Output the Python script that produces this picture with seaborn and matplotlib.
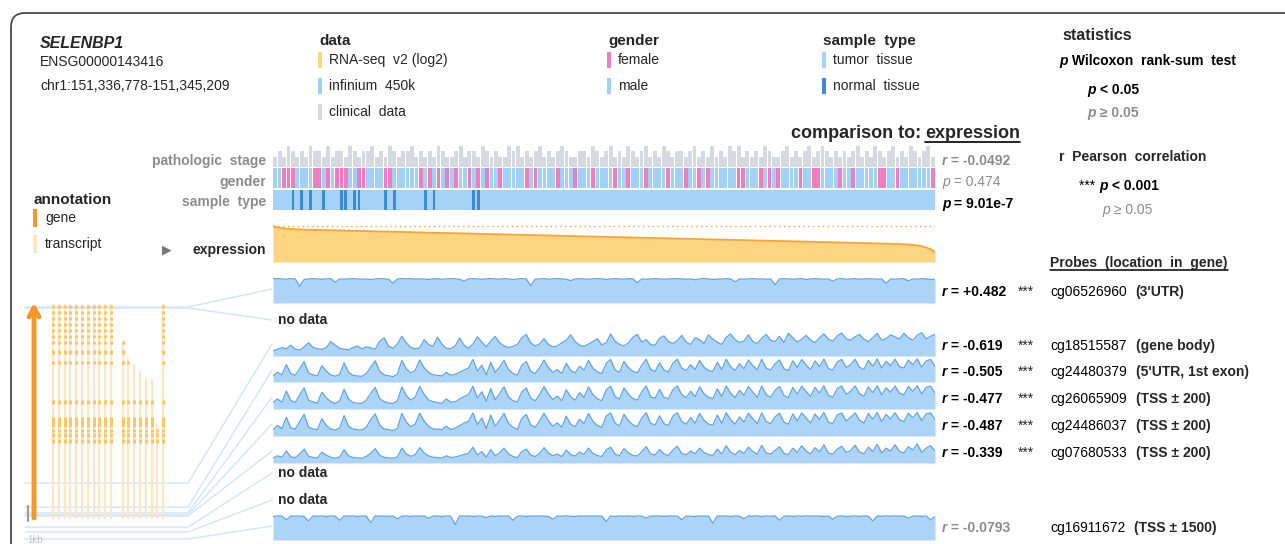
import numpy as np
import matplotlib
matplotlib.use('Agg')
import matplotlib.pyplot as plt
from matplotlib.patches import FancyBboxPatch, Rectangle
import seaborn as sns

sns.set_theme(style='white')
plt.rcParams['font.family'] = ['Liberation Sans', 'DejaVu Sans']

# ---------------------------------------------------------------- data
# samples are ordered by expression (high -> low)
EXPR = [12.68, 12.52, 12.41, 12.33, 12.28, 12.24, 12.21, 12.19, 12.17, 12.16,
        12.14, 12.13, 12.11, 12.10, 12.08, 12.06, 12.05, 12.03, 12.02, 12.00,
        11.99, 11.97, 11.95, 11.94, 11.92, 11.91, 11.89, 11.88, 11.86, 11.85,
        11.83, 11.82, 11.80, 11.78, 11.77, 11.75, 11.74, 11.72, 11.71, 11.69,
        11.68, 11.66, 11.65, 11.63, 11.62, 11.60, 11.58, 11.57, 11.55, 11.54,
        11.52, 11.51, 11.49, 11.48, 11.46, 11.45, 11.43, 11.41, 11.40, 11.38,
        11.37, 11.35, 11.34, 11.32, 11.31, 11.29, 11.28, 11.26, 11.24, 11.23,
        11.21, 11.20, 11.18, 11.17, 11.15, 11.14, 11.12, 11.11, 11.09, 11.07,
        11.06, 11.04, 11.03, 11.01, 11.00, 10.98, 10.97, 10.95, 10.94, 10.92,
        10.90, 10.89, 10.87, 10.86, 10.84, 10.83, 10.81, 10.80, 10.78, 10.77,
        10.75, 10.73, 10.72, 10.70, 10.69, 10.67, 10.66, 10.64, 10.63, 10.61,
        10.60, 10.58, 10.56, 10.55, 10.53, 10.52, 10.50, 10.49, 10.47, 10.46,
        10.44, 10.43, 10.41, 10.39, 10.38, 10.36, 10.35, 10.33, 10.32, 10.30,
        10.29, 10.27, 10.26, 10.24, 10.22, 10.21, 10.19, 10.18, 10.16, 10.14,
        10.12, 10.10, 10.07, 10.03, 9.98, 9.90, 9.78, 9.60, 9.35, 8.95]

STAGE = [int(c) for c in (
    "2324323243" "3242332432" "3342324323" "3423232432" "2342332432"
    "3224342323" "4232343223" "3243234232" "4323423243" "2332342324"
    "2324342323" "2432234232" "3423432323" "2342324323" "4232432342")]

GENDER = list(
    "MMFFFMMMMF" "FMFMFFFMMF" "FMMMMFFMMM" "MMMFMFMFMF" "MFMMFMFMFM"
    "MFMMMMMFMF" "MMMMFMMMFM" "MMFMMMMFMM" "FMMMFMMMMF" "MMMFMMFMFM"
    "MMMMMFFMMM" "FMFMFMMMMF" "MMFFMMMMFM" "MFMMMMMFFM" "MFMMMMMMMF")

SAMPLE_TYPE = list(
    "TTTTNTNTNT" "TNTTTNNTNN" "TTTTTNTNTT" "TTTTNTNTTT" "TTTTTNNTTT"
    "TTTTTTTTTT" "TTTTTTTTTT" "TTTTTTTTTT" "TTTTTTTTTT" "TTTTTTTTTT"
    "TTTTTTTTTT" "TTTTTTTTTT" "TTTTTTTTTT" "TTTTTTTTTT" "TTTTTTTTTT")

# methylation beta values x100 per probe
CG06526960 = [86, 87, 86, 85, 87, 86, 60, 84, 86, 87,
              86, 85, 86, 87, 74, 86, 85, 86, 87, 86,
              85, 86, 84, 86, 87, 86, 85, 70, 86, 87,
              86, 87, 85, 86, 86, 84, 86, 87, 85, 86,
              87, 86, 85, 78, 86, 87, 86, 85, 86, 87,
              86, 85, 87, 86, 84, 86, 87, 86, 62, 85,
              86, 87, 85, 86, 87, 86, 85, 80, 86, 87,
              86, 85, 86, 87, 86, 84, 86, 87, 86, 85,
              87, 86, 72, 86, 85, 86, 87, 86, 85, 86,
              86, 87, 86, 85, 86, 83, 86, 87, 86, 84,
              85, 86, 87, 86, 76, 86, 85, 86, 87, 86,
              86, 85, 86, 65, 86, 87, 86, 85, 86, 87,
              84, 86, 87, 86, 85, 86, 78, 86, 87, 85,
              86, 87, 85, 86, 87, 86, 85, 86, 70, 86,
              85, 86, 87, 79, 86, 85, 87, 86, 84, 85]

CG18515587 = [22, 28, 35, 30, 45, 28, 25, 38, 55, 36,
              30, 28, 35, 60, 45, 32, 28, 26, 35, 42,
              30, 38, 34, 28, 62, 75, 42, 32, 50, 82,
              55, 36, 30, 34, 68, 48, 40, 78, 50, 32,
              30, 42, 75, 45, 32, 50, 80, 58, 38, 62,
              82, 55, 42, 35, 40, 48, 76, 90, 55, 42,
              50, 72, 48, 38, 42, 55, 66, 88, 60, 45,
              40, 50, 60, 72, 46, 55, 92, 62, 48, 42,
              55, 78, 90, 58, 68, 48, 45, 74, 84, 60,
              52, 64, 86, 58, 48, 76, 68, 52, 88, 70,
              58, 48, 78, 92, 68, 56, 62, 88, 60, 52,
              74, 90, 66, 60, 82, 56, 95, 76, 58, 70,
              86, 66, 56, 76, 92, 70, 62, 84, 96, 72,
              66, 80, 90, 70, 60, 76, 94, 66, 72, 88,
              80, 70, 95, 76, 66, 86, 97, 72, 82, 90]

CG24480379 = [25, 40, 30, 72, 35, 28, 55, 85, 38, 30,
              26, 68, 45, 30, 24, 32, 80, 40, 28, 25,
              24, 35, 62, 88, 45, 30, 26, 22, 32, 90,
              55, 38, 48, 92, 60, 40, 30, 28, 25, 40,
              28, 32, 40, 50, 58, 94, 45, 70, 30, 82,
              40, 62, 90, 52, 36, 28, 70, 86, 45, 35,
              58, 92, 60, 40, 52, 35, 78, 48, 38, 66,
              50, 90, 58, 42, 35, 78, 94, 50, 40, 86,
              60, 45, 38, 70, 95, 52, 44, 80, 50, 42,
              78, 95, 58, 48, 72, 52, 90, 62, 48, 44,
              82, 52, 95, 64, 48, 76, 55, 92, 68, 50,
              95, 58, 50, 76, 92, 55, 48, 88, 60, 94,
              70, 52, 88, 64, 96, 56, 50, 84, 94, 60,
              72, 95, 62, 52, 90, 66, 96, 58, 86, 68,
              95, 64, 58, 92, 72, 96, 62, 88, 94, 66]

CG26065909 = [27, 42, 28, 75, 36, 27, 58, 88, 36, 30,
              25, 70, 47, 31, 23, 34, 82, 42, 27, 24,
              23, 37, 65, 90, 43, 31, 25, 23, 34, 92,
              56, 37, 50, 94, 62, 38, 31, 27, 24, 42,
              29, 30, 42, 52, 60, 95, 46, 72, 32, 85,
              38, 64, 92, 50, 35, 29, 72, 88, 46, 34,
              60, 94, 62, 39, 54, 34, 80, 50, 37, 68,
              49, 92, 60, 43, 34, 80, 95, 52, 41, 88,
              62, 44, 37, 72, 96, 50, 45, 82, 49, 43,
              80, 96, 60, 47, 74, 51, 92, 64, 49, 43,
              84, 51, 96, 66, 47, 78, 57, 94, 70, 49,
              96, 60, 49, 78, 94, 57, 47, 90, 62, 95,
              72, 53, 90, 66, 97, 57, 49, 86, 95, 61,
              74, 96, 64, 53, 92, 68, 97, 59, 88, 69,
              96, 66, 59, 94, 74, 97, 63, 90, 95, 67]

CG24486037 = [26, 44, 31, 78, 34, 29, 60, 90, 37, 29,
              27, 72, 44, 29, 25, 33, 85, 41, 29, 26,
              25, 36, 68, 92, 46, 29, 27, 22, 33, 94,
              58, 39, 49, 95, 63, 41, 29, 29, 26, 41,
              27, 33, 43, 54, 61, 96, 47, 75, 31, 87,
              41, 66, 94, 53, 37, 27, 74, 90, 47, 36,
              62, 95, 63, 41, 55, 36, 83, 49, 39, 70,
              52, 94, 61, 44, 36, 83, 96, 53, 42, 90,
              64, 46, 39, 75, 97, 53, 46, 84, 51, 44,
              83, 97, 61, 49, 77, 53, 94, 66, 50, 45,
              87, 53, 97, 68, 49, 80, 58, 95, 72, 51,
              97, 61, 51, 80, 95, 58, 49, 92, 63, 96,
              75, 54, 92, 68, 98, 58, 51, 88, 96, 62,
              77, 97, 66, 54, 94, 70, 98, 60, 90, 71,
              97, 68, 60, 95, 76, 98, 64, 92, 96, 69]

CG07680533 = [20, 30, 24, 50, 26, 22, 38, 58, 28, 23,
              21, 45, 32, 24, 20, 25, 55, 30, 23, 21,
              20, 27, 42, 60, 32, 24, 21, 20, 25, 62,
              38, 28, 34, 64, 42, 30, 24, 23, 21, 30,
              23, 25, 30, 36, 40, 66, 33, 48, 24, 56,
              30, 42, 62, 38, 27, 22, 48, 58, 33, 27,
              40, 64, 42, 30, 37, 27, 54, 35, 29, 46,
              36, 62, 40, 31, 27, 54, 66, 37, 30, 60,
              42, 32, 29, 48, 68, 38, 33, 56, 38, 31,
              54, 70, 40, 34, 50, 38, 62, 44, 35, 32,
              58, 38, 72, 45, 35, 52, 40, 66, 48, 37,
              74, 42, 37, 52, 68, 40, 35, 62, 44, 72,
              50, 38, 64, 46, 76, 42, 37, 58, 70, 44,
              52, 74, 46, 38, 66, 48, 78, 42, 62, 50,
              76, 48, 42, 68, 54, 80, 44, 62, 72, 50]

CG16911672 = [84, 86, 85, 72, 86, 85, 86, 84, 68, 86,
              85, 86, 84, 86, 85, 70, 86, 85, 86, 84,
              86, 85, 62, 86, 85, 86, 84, 86, 75, 85,
              86, 84, 86, 85, 86, 78, 85, 86, 84, 86,
              85, 55, 86, 85, 86, 84, 86, 85, 80, 86,
              84, 86, 85, 86, 70, 85, 86, 84, 86, 85,
              86, 85, 84, 74, 86, 85, 86, 85, 84, 86,
              85, 86, 85, 86, 85, 66, 86, 84, 86, 85,
              86, 84, 86, 85, 78, 86, 85, 86, 84, 86,
              85, 86, 72, 86, 85, 84, 86, 85, 86, 60,
              86, 85, 86, 84, 86, 85, 76, 86, 85, 86,
              84, 86, 85, 86, 70, 85, 86, 84, 86, 85,
              86, 85, 86, 85, 84, 86, 74, 85, 86, 84,
              85, 86, 84, 86, 85, 68, 86, 85, 86, 85,
              86, 85, 86, 78, 85, 86, 84, 86, 72, 84]

# probe table (row order as shown)
PROBE_ROWS = [
    ('cg06526960', "(3'UTR)",          '+0.482', True,  CG06526960),
    (None, None, None, None, None),
    ('cg18515587', '(gene body)',      '-0.619', True,  CG18515587),
    ('cg24480379', "(5'UTR, 1st exon)", '-0.505', True, CG24480379),
    ('cg26065909', '(TSS ± 200)',      '-0.477', True,  CG26065909),
    ('cg24486037', '(TSS ± 200)',      '-0.487', True,  CG24486037),
    ('cg07680533', '(TSS ± 200)',      '-0.339', True,  CG07680533),
    (None, None, None, None, None),
    (None, None, None, None, None),
    ('cg16911672', '(TSS ± 1500)',     '-0.0793', False, CG16911672),
]
# probe genomic position, kb from gene start
PROBE_KB = [8.34, 8.30, 1.38, 0.43, 0.20, 0.12, 0.08, -0.36, -0.55, -0.83]

# gene annotation (kb from gene start)
GENE_KB = (0.0, 8.43)
TX_COLUMN = [0, 1, 2, 3, 4, 5, 6, 7, 8, 9, 10, 12, 13, 14, 15, 16, 17, 18, 19]
TX_TOP_KB = [8.42, 8.42, 8.42, 8.42, 8.42, 8.42, 8.42, 8.42, 8.42, 8.42, 8.42,
             6.96, 6.25, 6.05, 5.77, 5.49, 5.45, 3.68, 8.42]
EXON_KB = [8.30, 8.06, 7.82, 7.58, 7.34, 7.10, 6.86, 6.50, 6.07, 4.50,
           3.60, 3.40, 3.20, 2.96]
EXON_LEN = [0.12, 0.12, 0.12, 0.12, 0.12, 0.12, 0.12, 0.15, 0.15, 0.15,
            0.40, 0.12, 0.15, 0.15]

# ---------------------------------------------------------------- style
ORANGE_FILL = '#fdd480'
ORANGE_LINE = '#f4a535'
BLUE_FILL = '#acd4f6'
BLUE_LINE = '#62a4e0'
PINK = '#f27cc0'
MALE = '#a1d1f6'
TUMOR = '#a4d3f7'
NORMAL = '#3d8bd6'
CLIN = '#d6d9df'
GENE = '#f5972b'
TRANSCRIPT = '#fde7c3'
EXON = '#f9c766'
LINK = '#d3e4f4'
GRAY = '#8c8c8c'

W, H = 1285, 544
N = len(EXPR)
idx = np.arange(N)
fig = plt.figure(figsize=(W / 100, H / 100), dpi=100)
R = fig.canvas.get_renderer()

bg = fig.add_axes([0, 0, 1, 1])
bg.set_xlim(0, W)
bg.set_ylim(H, 0)
bg.axis('off')


def box(x0, y0, x1, y1):
    return fig.add_axes([x0 / W, 1 - y1 / H, (x1 - x0) / W, (y1 - y0) / H])


def clean(ax, keep_face=False):
    ax.set_xticks([])
    ax.set_yticks([])
    ax.set(xlabel='', ylabel='')
    for s in ax.spines.values():
        s.set_visible(False)
    if not keep_face:
        ax.patch.set_visible(False)


def seq(x, y, parts, size=10, color='black'):
    for s, kw in parts:
        t = bg.text(x, y, s, fontsize=size, color=color, va='center', **kw)
        x = t.get_window_extent(renderer=R).x1
    return x


X0, X1 = 273, 935

# frame
bg.add_patch(FancyBboxPatch((11, 13), 1400, 700,
                            boxstyle='round,pad=0,rounding_size=14',
                            fc='none', ec='#4a4a4a', lw=1.3))

# ---------------------------------------------------------------- header
bg.text(40, 43, 'SELENBP1', fontsize=11.5, weight='bold', style='italic', va='center')
bg.text(40, 62, 'ENSG00000143416', fontsize=10, va='center')
bg.text(40, 86, 'chr1:151,336,778-151,345,209', fontsize=10, va='center')


def legend_block(x, title, items):
    bg.text(x, 41, title, fontsize=11, weight='bold', va='center')
    for k, (lab, col) in enumerate(items):
        y = 60 + 26 * k
        bg.add_patch(Rectangle((x - 1, y - 8), 3.5, 16, color=col, lw=0))
        bg.text(x + 10, y, lab, fontsize=10, va='center')


legend_block(319, 'data', [('RNA-seq  v2 (log2)', ORANGE_FILL),
                           ('infinium  450k', MALE), ('clinical  data', CLIN)])
legend_block(608, 'gender', [('female', PINK), ('male', MALE)])
legend_block(823, 'sample  type', [('tumor  tissue', TUMOR), ('normal  tissue', NORMAL)])

# statistics legend
bg.text(1062, 35, 'statistics', fontsize=11.5, weight='bold', va='center')
seq(1059, 61, [('p', dict(style='italic', weight='bold')),
               (' Wilcoxon  rank-sum  test', dict(weight='bold'))])
seq(1087, 90, [('p', dict(style='italic', weight='bold')), (' < 0.05', dict(weight='bold'))])
seq(1087, 113, [('p', dict(style='italic', weight='bold')), (' ≥ 0.05', dict(weight='bold'))],
    color=GRAY)
bg.text(1059, 157, 'r  Pearson  correlation', fontsize=10, weight='bold', va='center')
seq(1079, 186, [('*** ', {}), ('p', dict(style='italic', weight='bold')),
                (' < 0.001', dict(weight='bold'))])
seq(1102, 210, [('p', dict(style='italic')), (' ≥ 0.05', {})], color=GRAY)

# comparison title with underline
t = bg.text(1020, 133, 'expression', fontsize=13, weight='bold', ha='right', va='center')
bb = t.get_window_extent(renderer=R)
bg.plot([bb.x0, bb.x1], [142, 142], color='black', lw=1.2)
bg.text(bb.x0 - 4, 133, 'comparison to:', fontsize=13, weight='bold', ha='right', va='center')

# annotation legend
bg.text(33, 200, 'annotation', fontsize=11, weight='bold', va='center')
bg.add_patch(Rectangle((33, 209), 4, 18, color=GENE, lw=0))
bg.text(45, 218, 'gene', fontsize=10, va='center')
bg.add_patch(Rectangle((33, 235), 4, 18, color=TRANSCRIPT, lw=0))
bg.text(45, 244, 'transcript', fontsize=10, va='center')

# row labels
for y, lab in [(161, 'pathologic  stage'), (182, 'gender'), (202, 'sample  type')]:
    bg.text(266, y, lab, fontsize=10, weight='bold', color=GRAY, ha='right', va='center')
bg.text(167, 250, '▶', fontsize=9, color='#777777', ha='center', va='center')
bg.text(266, 250, 'expression', fontsize=10, weight='bold', ha='right', va='center')

# clinical stats
seq(942, 161, [('r', dict(style='italic', weight='bold')), (' = -0.0492', dict(weight='bold'))],
    color=GRAY)
seq(942, 182, [('p', dict(style='italic')), (' = 0.474', {})], color=GRAY)
seq(942, 204, [('p', dict(style='italic', weight='bold')), (' = 9.01e-7', dict(weight='bold'))])

# ---------------------------------------------------------------- clinical tracks
ax = box(X0, 146, X1, 167)
sns.barplot(x=idx, y=STAGE, color=CLIN, saturation=1, width=0.88,
            errorbar=None, linewidth=0, ax=ax)
ax.set_xlim(-0.5, N - 0.5)
ax.set_ylim(0, 4)
clean(ax)

ax = box(X0, 168, X1, 188)
sns.barplot(x=idx, y=np.ones(N), hue=GENDER, palette={'F': PINK, 'M': MALE},
            dodge=False, saturation=1, width=0.85, errorbar=None, linewidth=0,
            legend=False, ax=ax)
ax.set_xlim(-0.5, N - 0.5)
ax.set_ylim(0, 1)
clean(ax)

ax = box(X0, 190, X1, 210)
ax.set_facecolor(TUMOR)
sns.barplot(x=idx, y=np.ones(N), hue=SAMPLE_TYPE, palette={'T': TUMOR, 'N': NORMAL},
            dodge=False, saturation=1, width=0.6, errorbar=None, linewidth=0,
            legend=False, ax=ax)
ax.set_xlim(-0.5, N - 0.5)
ax.set_ylim(0, 1)
clean(ax, keep_face=True)

# ---------------------------------------------------------------- expression
ax = box(X0, 224, X1, 262)
ax.fill_between(idx, EXPR, 7.5, color=ORANGE_FILL, lw=0)
sns.lineplot(x=idx, y=EXPR, color=ORANGE_LINE, lw=1.3, ax=ax)
ax.axhline(max(EXPR), color=ORANGE_LINE, lw=1, ls=(0, (1, 2.5)))
ax.set_xlim(0, N - 1)
ax.set_ylim(7.5, 13.0)
clean(ax)

# ---------------------------------------------------------------- gene annotation
def kb2px(kb):
    return 518 - kb * 25.3


def col2px(c):
    return 53 + 5.8 * c


ROW_Y = [289, 320, 344, 370, 397, 424, 451, 473, 500, 526]
for kb, ry in zip(PROBE_KB, ROW_Y):
    py = kb2px(kb)
    bg.plot([25, 188, 272], [py, py, ry], color=LINK, lw=1.0, zorder=1)

for c, top in zip(TX_COLUMN, TX_TOP_KB):
    x = col2px(c)
    bg.plot([x, x], [kb2px(top), kb2px(GENE_KB[0])], color=TRANSCRIPT, lw=1.6, zorder=2)
    for e, L in zip(EXON_KB, EXON_LEN):
        if e + L <= top + 0.05:
            bg.plot([x, x], [kb2px(e), kb2px(e + L)], color=EXON, lw=2.2,
                    solid_capstyle='butt', zorder=3)

bg.annotate('', xy=(34, kb2px(GENE_KB[1]) - 2), xytext=(34, kb2px(GENE_KB[0])),
            arrowprops=dict(arrowstyle='->,head_length=0.55,head_width=0.3',
                            lw=3.5, color=GENE, shrinkA=0, shrinkB=0), zorder=4)
bg.plot([28, 28], [506, 521], color='#9a9a9a', lw=1.5)
bg.text(27, 540, '1kb', fontsize=7, color='#c2c2c2', va='center')

# ---------------------------------------------------------------- methylation tracks
for (pid, loc, r, sig, vals), ry in zip(PROBE_ROWS, ROW_Y):
    if pid is None:
        bg.text(278, ry, 'no data', fontsize=10, weight='bold', va='center')
        continue
    h = 14 if ry in (289, 526) else 12
    ax = box(X0, ry - h, X1, ry + h)
    beta = np.array(vals) / 100
    ax.fill_between(idx, beta, 0, color=BLUE_FILL, lw=0)
    sns.lineplot(x=idx, y=beta, color=BLUE_LINE, lw=0.9, ax=ax)
    ax.set_xlim(0, N - 1)
    ax.set_ylim(0, 1)
    clean(ax)

    ty = ry + 2 if ry != 289 else 292
    col = 'black' if sig else GRAY
    seq(942, ty, [('r', dict(style='italic', weight='bold')),
                  (' = ' + r, dict(weight='bold'))], color=col)
    if sig:
        bg.text(1018, ty, '***', fontsize=10, va='center')
    x = seq(1050, ty, [(pid, {})], size=10)
    bg.text(x + 9, ty, loc, fontsize=10, weight='bold', va='center')

# probes header with underline
t = bg.text(1050, 263, 'Probes  (location  in  gene)', fontsize=10, weight='bold', va='center')
bb = t.get_window_extent(renderer=R)
bg.plot([bb.x0, bb.x1], [270, 270], color='black', lw=1.1)

fig.savefig('out.png', dpi=100)
